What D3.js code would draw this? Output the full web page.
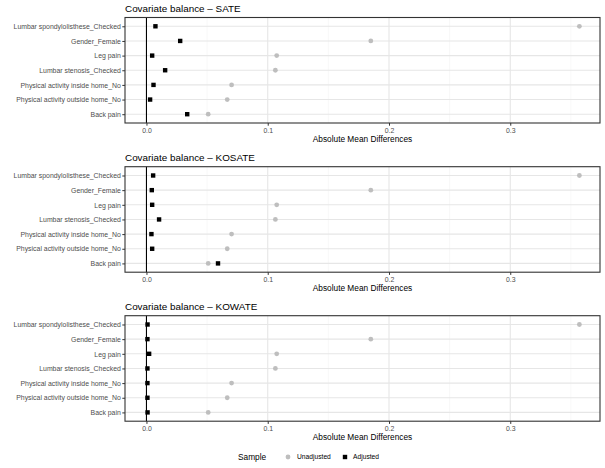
<!DOCTYPE html>
<html>
<head>
<meta charset="utf-8">
<script src="https://cdn.jsdelivr.net/npm/d3@7"></script>
<style>
  body { margin: 0; background: #fff; }
  text { font-family: "Liberation Sans", Arial, sans-serif; }
</style>
</head>
<body>
<div id="chart"></div>
<script>
// Covariates, top to bottom
const covariates = [
    "Lumbar spondylolisthese_Checked",
    "Gender_Female",
    "Leg pain",
    "Lumbar stenosis_Checked",
    "Physical activity inside home_No",
    "Physical activity outside home_No",
    "Back pain"
];

// Unadjusted absolute mean differences (same sample in every panel)
const unadjusted = [0.357, 0.185, 0.1074, 0.1063, 0.0702, 0.0666, 0.0509];

// Adjusted absolute mean differences per estimand
const sateAdjusted   = [0.0074, 0.0278, 0.0047, 0.0154, 0.0058, 0.0030, 0.0336];
const kosateAdjusted = [0.0055, 0.0044, 0.0047, 0.0104, 0.0041, 0.0047, 0.0590];
const kowateAdjusted = [0.0009, 0.0008, 0.0022, 0.0008, 0.0008, 0.0008, 0.0009];

const panelTitles = ["Covariate balance \u2013 SATE", "Covariate balance \u2013 KOSATE", "Covariate balance \u2013 KOWATE"];
const panelAdjusted = [sateAdjusted, kosateAdjusted, kowateAdjusted];

const xTicks = [0, 0.1, 0.2, 0.3];
const xMinor = [0.05, 0.15, 0.25, 0.35];

const width = 605, height = 468;
const margin = { left: 125, right: 5 };
const panelTop = [17.5, 166.7, 315.7];
const panelHeight = 105.5;

const svg = d3.select("#chart")
    .append("svg")
    .attr("width", width)
    .attr("height", height);

// Shared x scale
const xScale = d3.scaleLinear()
    .domain([-0.0177, 0.374])
    .range([margin.left, width - margin.right]);

panelTitles.forEach((title, i) => {
    const top = panelTop[i];
    const bottom = top + panelHeight;
    const adjusted = panelAdjusted[i];

    const yScale = d3.scalePoint()
        .domain(covariates)
        .range([top, bottom])
        .padding(0.6);

    const g = svg.append("g");

    // Title
    g.append("text")
        .attr("x", margin.left)
        .attr("y", top - 5.5)
        .attr("font-size", 9.9)
        .attr("fill", "#000")
        .text(title);

    // Minor grid
    g.selectAll(".minor")
        .data(xMinor)
        .enter()
        .append("line")
        .attr("x1", d => xScale(d))
        .attr("x2", d => xScale(d))
        .attr("y1", top)
        .attr("y2", bottom)
        .attr("stroke", "#f4f4f4")
        .attr("stroke-width", 0.6);

    // Major grid
    g.selectAll(".major")
        .data(xTicks)
        .enter()
        .append("line")
        .attr("x1", d => xScale(d))
        .attr("x2", d => xScale(d))
        .attr("y1", top)
        .attr("y2", bottom)
        .attr("stroke", "#e6e6e6")
        .attr("stroke-width", 1.1);

    g.selectAll(".hgrid")
        .data(covariates)
        .enter()
        .append("line")
        .attr("x1", margin.left)
        .attr("x2", width - margin.right)
        .attr("y1", d => yScale(d))
        .attr("y2", d => yScale(d))
        .attr("stroke", "#e6e6e6")
        .attr("stroke-width", 1.1);

    // Reference line at zero
    g.append("line")
        .attr("x1", xScale(0))
        .attr("x2", xScale(0))
        .attr("y1", top)
        .attr("y2", bottom)
        .attr("stroke", "#000")
        .attr("stroke-width", 1.1);

    // Unadjusted points
    g.selectAll(".unadj")
        .data(covariates)
        .enter()
        .append("circle")
        .attr("cx", (d, j) => xScale(unadjusted[j]))
        .attr("cy", d => yScale(d))
        .attr("r", 2.4)
        .attr("fill", "#bebebe");

    // Adjusted points
    const s = 4.4;
    g.selectAll(".adj")
        .data(covariates)
        .enter()
        .append("rect")
        .attr("x", (d, j) => xScale(adjusted[j]) - s / 2)
        .attr("y", d => yScale(d) - s / 2)
        .attr("width", s)
        .attr("height", s)
        .attr("fill", "#000");

    // Panel border
    g.append("rect")
        .attr("x", margin.left)
        .attr("y", top)
        .attr("width", width - margin.right - margin.left)
        .attr("height", panelHeight)
        .attr("fill", "none")
        .attr("stroke", "#333")
        .attr("stroke-width", 1.1);

    // Y axis
    const yAxis = g.append("g")
        .attr("transform", `translate(${margin.left},0)`)
        .call(d3.axisLeft(yScale).tickSize(2.7).tickPadding(1.5));
    yAxis.select(".domain").remove();
    yAxis.selectAll("line").attr("stroke", "#333").attr("stroke-width", 1);
    yAxis.selectAll("text")
        .attr("font-family", "'Liberation Sans', Arial, sans-serif")
        .attr("font-size", 6.9)
        .attr("fill", "#4d4d4d");

    // X axis
    const xAxis = g.append("g")
        .attr("transform", `translate(0,${bottom})`)
        .call(d3.axisBottom(xScale).tickValues(xTicks).tickFormat(d3.format(".1f")).tickSize(2.7).tickPadding(2));
    xAxis.select(".domain").remove();
    xAxis.selectAll("line").attr("stroke", "#333").attr("stroke-width", 1);
    xAxis.selectAll("text")
        .attr("font-family", "'Liberation Sans', Arial, sans-serif")
        .attr("font-size", 6.9)
        .attr("fill", "#4d4d4d");

    // X axis title
    g.append("text")
        .attr("x", (margin.left + width - margin.right) / 2)
        .attr("y", bottom + 19)
        .attr("text-anchor", "middle")
        .attr("font-size", 8.3)
        .attr("fill", "#000")
        .text("Absolute Mean Differences");
});

// Legend
const legend = svg.append("g").attr("transform", "translate(0,457)");
legend.append("text")
    .attr("x", 238)
    .attr("y", 3)
    .attr("font-size", 8.3)
    .attr("fill", "#000")
    .text("Sample");
legend.append("circle")
    .attr("cx", 288)
    .attr("cy", 0)
    .attr("r", 2.4)
    .attr("fill", "#bebebe");
legend.append("text")
    .attr("x", 297)
    .attr("y", 2.4)
    .attr("font-size", 6.7)
    .attr("fill", "#000")
    .text("Unadjusted");
legend.append("rect")
    .attr("x", 345 - 2.2)
    .attr("y", -2.2)
    .attr("width", 4.4)
    .attr("height", 4.4)
    .attr("fill", "#000");
legend.append("text")
    .attr("x", 353)
    .attr("y", 2.4)
    .attr("font-size", 6.7)
    .attr("fill", "#000")
    .text("Adjusted");
</script>
</body>
</html>
